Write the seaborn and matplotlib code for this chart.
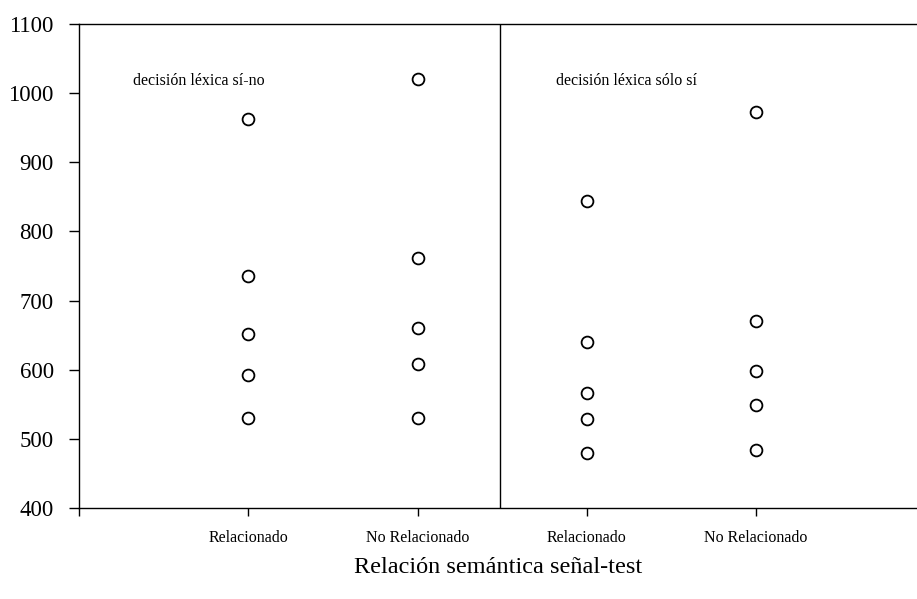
import pandas as pd
import seaborn as sns
import matplotlib.pyplot as plt

# Datos (tiempos de reacción, ms)
tareas = ["decisión léxica sí-no", "decisión léxica sólo sí"]
relaciones = ["Relacionado", "No Relacionado"]

sino_rel = [963, 735, 652, 593, 530]
sino_norel = [1020, 762, 660, 608, 530]
solosi_rel = [844, 640, 566, 528, 479]
solosi_norel = [973, 671, 598, 549, 484]

y_ticks = [400, 500, 600, 700, 800, 900, 1000, 1100]

# Armamos el DataFrame largo
filas = []
series = [(tareas[0], relaciones[0], sino_rel),
          (tareas[0], relaciones[1], sino_norel),
          (tareas[1], relaciones[0], solosi_rel),
          (tareas[1], relaciones[1], solosi_norel)]
for tarea, rel, valores in series:
    for v in valores:
        filas.append({"grupo": tarea + " | " + rel, "rt": v})
df = pd.DataFrame(filas)
orden = [t + " | " + r for t, r, _ in series]

sns.set_style("ticks")
plt.rcParams["font.family"] = ["Liberation Serif", "DejaVu Serif"]
plt.rcParams["text.color"] = "black"
plt.rcParams["xtick.color"] = "black"
plt.rcParams["ytick.color"] = "black"
plt.rcParams["axes.labelcolor"] = "black"

fig = plt.figure(figsize=(9.17, 5.99), dpi=100)
ax = fig.add_axes([0.0862, 0.1519, 0.9138, 0.8081])

sns.stripplot(data=df, x="grupo", y="rt", order=orden, jitter=False,
              color="white", edgecolor="black", linewidth=1.3, size=8.5,
              ax=ax, zorder=3)

ax.set_xlim(-1, 3.95)
ax.set_ylim(400, 1100)
ax.set_xticks([-1, 0, 1, 2, 3])
ax.set_xticklabels([""] + relaciones + relaciones, fontsize=11.5)
ax.set_yticks(y_ticks)
ax.set_yticklabels([str(t) for t in y_ticks], fontsize=16.5)

# Separador entre tareas
ax.axvline(1.487, color="black", linewidth=1.0)

for s in ["left", "bottom", "top"]:
    ax.spines[s].set_linewidth(1.0)
    ax.spines[s].set_color("black")
ax.spines["right"].set_visible(False)

ax.tick_params(axis="y", length=7.2, width=1.0, pad=11)
ax.tick_params(axis="x", length=5.8, width=1.0, pad=10)

ax.text(-0.68, 1017, tareas[0], fontsize=11.5, va="center", ha="left")
ax.text(1.82, 1017, tareas[1], fontsize=11.5, va="center", ha="left")

ax.set_xlabel("Relación semántica señal-test", fontsize=17.5, labelpad=8)
ax.set_ylabel("")

fig.savefig("out.png", dpi=100)
